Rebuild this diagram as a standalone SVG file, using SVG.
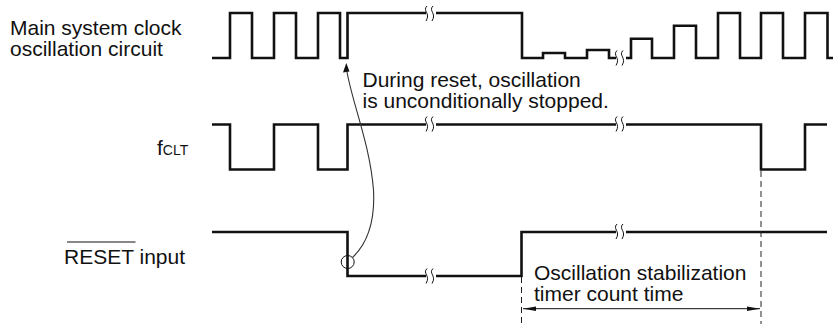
<svg xmlns="http://www.w3.org/2000/svg" width="833" height="324" viewBox="0 0 833 324">
<style>
text{font-family:"Liberation Sans",Arial,sans-serif;font-size:21px;fill:#111}
.w{fill:none;stroke:#111;stroke-width:2.6;stroke-linejoin:miter}
.b{fill:none;stroke:#111;stroke-width:1}
.t{fill:none;stroke:#333;stroke-width:1.1}
.d{fill:none;stroke:#222;stroke-width:1;stroke-dasharray:6 4}
.h{fill:#fff;stroke:none}
</style>
<defs>
<path id="brk" d="M-2,-8C-7,-3 2,-1 -3,7M4,-8C-1,-3 8,-1 3,7" class="b"/>
<marker id="ah" markerUnits="userSpaceOnUse" markerWidth="14" markerHeight="8" refX="13" refY="4" orient="auto-start-reverse"><path d="M0,1.8L13,4L0,6.2Z" fill="#111"/></marker>
</defs>
<g id="connectors">
<path id="wave-clock" class="w" d="M212,58H230V13H252V58H274V13H296V58H318V13H340V58H347.5V13H522V58H543V53H565V58H587V50H609V58H631V38.7H652V58H674V25.7H696V58H718V13H740V58H761V13H783V58H805V13H827.5V58H833"/>
<path id="wave-fclt" class="w" d="M212,124.5H230V169.5H274V124.5H318V169.5H347.5V124.5H761V169.5H805V124.5H827"/>
<path id="wave-reset" class="w" d="M212,232H347.5V276H521.5V232H827"/>
<path class="h" d="M426,9h10v8h-10zM426,120h10v9h-10zM616,120h10v9h-10zM426,272h10v9h-10zM616,228h10v9h-10zM616,54h10v9h-10z"/>
<use href="#brk" x="429" y="14"/>
<use href="#brk" x="429" y="124.5"/>
<use href="#brk" x="619" y="124.5"/>
<use href="#brk" x="429" y="276.5"/>
<use href="#brk" x="619" y="232"/>
<use href="#brk" x="619" y="58.5"/>
<path class="d" d="M521.5,277V324M761,171V324"/>
<path class="b" d="M523,308.7H760" marker-start="url(#ah)" marker-end="url(#ah)"/>
<circle class="b" cx="347.7" cy="262" r="6.5"/>
<path class="t" d="M352.5,257.5C370,241 375,218 373.5,190C370,145 353,105 347,72"/>
<path d="M346.3,63L343,72.5L349.5,71.5Z" fill="#111"/>
</g>
<g id="node-clock"><text><tspan x="10" y="34.7">Main system clock</tspan><tspan x="10" y="55.7">oscillation circuit</tspan></text></g>
<g id="node-fclt"><text x="157" y="154.7">f<tspan font-size="14">CLT</tspan></text></g>
<g id="node-reset"><text x="64" y="264">RESET input</text><path class="b" d="M67,242H135.5"/></g>
<g id="note-reset"><text><tspan x="362.5" y="87">During reset, oscillation</tspan><tspan x="362.5" y="108">is unconditionally stopped.</tspan></text></g>
<g id="note-stab"><text><tspan x="534" y="280">Oscillation stabilization</tspan><tspan x="534" y="301">timer count time</tspan></text></g>
</svg>
